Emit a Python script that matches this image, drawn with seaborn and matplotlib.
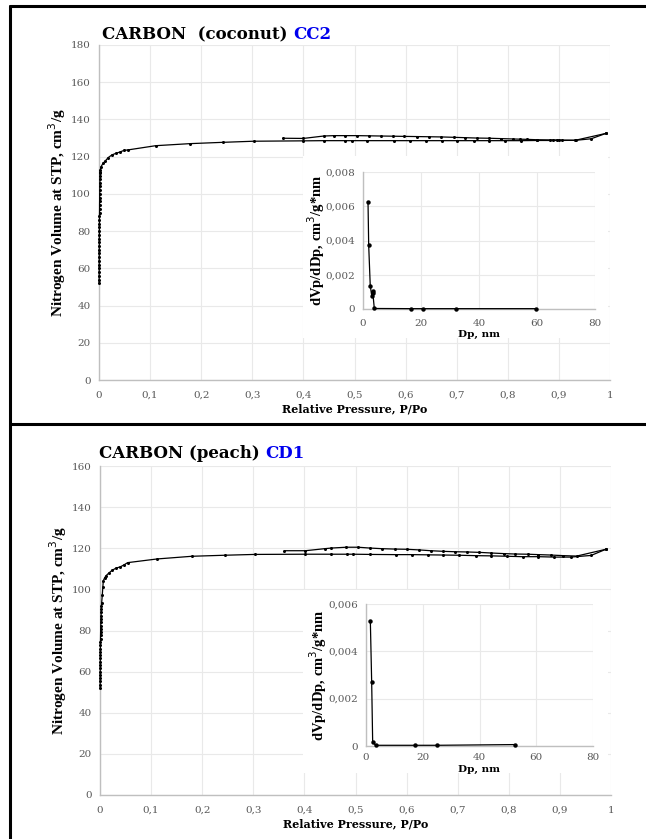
import matplotlib
matplotlib.use("Agg")
import matplotlib.pyplot as plt
import matplotlib.ticker as mticker
from matplotlib.lines import Line2D
import pandas as pd
import seaborn as sns

sns.set_style("whitegrid")
plt.rcParams['font.family'] = ['DejaVu Serif', 'DejaVu Sans']
plt.rcParams['text.color'] = 'black'
plt.rcParams['axes.labelcolor'] = 'black'

# -----------------------------
# DATA : CARBON (coconut) CC2
# -----------------------------
cc2_ads_p = [0.0003, 0.0003, 0.0003, 0.0004, 0.0004, 0.0004, 0.0004, 0.0005, 0.0005, 0.0005,
             0.0006, 0.0006, 0.0006, 0.0007, 0.0007, 0.0008, 0.0008, 0.0009, 0.0009, 0.001,
             0.0011, 0.0011, 0.0012, 0.0013, 0.0014, 0.0015, 0.0016, 0.0017, 0.0018, 0.0019,
             0.002, 0.0022, 0.0025, 0.004, 0.008, 0.012, 0.018, 0.025, 0.033, 0.041,
             0.049, 0.056, 0.111, 0.178, 0.242, 0.303, 0.40, 0.44, 0.482, 0.495,
             0.525, 0.577, 0.608, 0.639, 0.672, 0.701, 0.733, 0.763, 0.794, 0.825,
             0.858, 0.888, 0.901, 0.933, 0.963, 0.992]
cc2_ads_v = [52, 54, 56, 58, 60, 62, 64, 66, 68, 70,
             72, 74, 76, 78, 80, 82, 84, 86, 88, 90,
             92, 94, 96, 98, 100, 102, 104, 106, 108, 109.5,
             111, 112, 112.8, 114.6, 116.5, 117.6, 119.5, 120.9, 121.8, 122.5,
             123.4, 123.6, 125.9, 127.0, 127.7, 128.3, 128.5, 128.6, 128.6, 128.6,
             128.6, 128.6, 128.6, 128.6, 128.6, 128.6, 128.6, 128.6, 128.6, 128.6,
             128.7, 128.7, 128.7, 128.8, 129.6, 132.5]

cc2_des_p = [0.992, 0.932, 0.906, 0.896, 0.883, 0.857, 0.837, 0.824, 0.811, 0.787,
             0.764, 0.740, 0.717, 0.694, 0.670, 0.646, 0.622, 0.597, 0.575, 0.551,
             0.528, 0.505, 0.482, 0.46, 0.44, 0.40, 0.36]
cc2_des_v = [132.5, 128.8, 128.9, 129.0, 129.0, 129.1, 129.3, 129.4, 129.5, 129.7,
             129.9, 130.0, 130.2, 130.4, 130.6, 130.7, 130.8, 130.9, 131.0, 131.1,
             131.2, 131.3, 131.3, 131.3, 131.1, 129.8, 129.9]

cc2_dp = [1.73, 1.96, 2.5, 3.0, 3.3, 3.4, 3.9, 16.7, 20.7, 32.2, 59.6]
cc2_dv = [0.00625, 0.00373, 0.00136, 0.00078, 0.00107, 0.00092, 0.00003,
          0.00002, 0.00002, 0.00002, 0.00002]

# -----------------------------
# DATA : CARBON (peach) CD1
# -----------------------------
cd1_ads_p = [0.0003, 0.0003, 0.0003, 0.0004, 0.0004, 0.0004, 0.0005, 0.0005, 0.0005, 0.0006,
             0.0006, 0.0007, 0.0007, 0.0008, 0.0009, 0.001, 0.0011, 0.0012, 0.0013, 0.0015,
             0.0017, 0.0019, 0.0021, 0.0023, 0.0026, 0.0029, 0.0033, 0.0045, 0.0055, 0.0065,
             0.009, 0.012, 0.018, 0.024, 0.031, 0.04, 0.047, 0.054, 0.112, 0.18,
             0.244, 0.303, 0.402, 0.453, 0.484, 0.495, 0.528, 0.579, 0.61, 0.641,
             0.672, 0.703, 0.735, 0.765, 0.797, 0.827, 0.858, 0.889, 0.921, 0.961,
             0.99]
cd1_ads_v = [52, 53.6, 55.2, 56.8, 58.4, 60, 61.6, 63.2, 64.8, 66.4,
             68, 69.6, 71.2, 72.8, 74.4, 76, 77.6, 79.2, 80.8, 82.4,
             84, 85.6, 87.2, 88.8, 90.4, 92, 93.6, 97.3, 101.0, 104.2,
             105.6, 106.7, 108.1, 109.3, 110.3, 111.0, 111.9, 113.0, 114.8, 116.1,
             116.6, 117.0, 117.1, 117.1, 117.1, 117.1, 117.0, 116.9, 116.9, 116.8,
             116.7, 116.6, 116.4, 116.3, 116.1, 115.9, 115.9, 115.7, 115.7, 116.5,
             119.5]

cd1_des_p = [0.99, 0.933, 0.907, 0.882, 0.858, 0.837, 0.812, 0.79, 0.765, 0.742,
             0.718, 0.695, 0.672, 0.647, 0.624, 0.6, 0.577, 0.551, 0.528, 0.505,
             0.482, 0.453, 0.44, 0.402, 0.361]
cd1_des_v = [119.5, 116.2, 116.4, 116.7, 116.9, 117.1, 117.2, 117.4, 117.7, 118.0,
             118.2, 118.3, 118.5, 118.8, 119.2, 119.5, 119.6, 119.8, 120.1, 120.5,
             120.5, 120.1, 119.8, 118.8, 118.8]

cd1_dp = [1.53, 2.0, 2.35, 3.4, 17.1, 25.1, 52.4]
cd1_dv = [0.00529, 0.00269, 0.00017, 0.00003, 0.00003, 0.00003, 0.00006]

W, H = 646, 839
GRID = '#e9e9e9'
SPINE = '#bfbfbf'
TICKC = '#595959'
SERIF = ['DejaVu Serif', 'DejaVu Sans']
COND = ['Liberation Serif', 'DejaVu Serif']


def comma(v, pos):
    return f"{v:g}".replace('.', ',')


def box(x0, y0, x1, y1):
    # pixel box (top-left origin) -> figure fraction rect
    return [x0 / W, 1 - y1 / H, (x1 - x0) / W, (y1 - y0) / H]


def style_axes(ax, xmax, ymax, xstep, ystep, xpad=8):
    ax.set_xlim(0, xmax)
    ax.set_ylim(0, ymax)
    ax.xaxis.set_major_locator(mticker.MultipleLocator(xstep))
    ax.yaxis.set_major_locator(mticker.MultipleLocator(ystep))
    ax.xaxis.set_major_formatter(mticker.FuncFormatter(comma))
    ax.yaxis.set_major_formatter(mticker.FuncFormatter(comma))
    ax.grid(True, color=GRID, linewidth=0.8)
    for s in ['top', 'right']:
        ax.spines[s].set_visible(False)
    for s in ['left', 'bottom']:
        ax.spines[s].set_color(SPINE)
        ax.spines[s].set_linewidth(1.0)
    ax.tick_params(length=0, labelsize=7.5, labelcolor=TICKC, pad=6)
    ax.tick_params(axis='x', pad=xpad)
    for lab in ax.get_xticklabels() + ax.get_yticklabels():
        lab.set_family(SERIF)
    ax.set_facecolor('white')


def curve(ax, x, y, ms=2.2):
    df = pd.DataFrame({'x': x, 'y': y})
    sns.lineplot(data=df, x='x', y='y', ax=ax, sort=False, color='black',
                 linewidth=0.9, marker='o', markersize=ms, markeredgewidth=0,
                 estimator=None, zorder=4, clip_on=False)


def panel(main_rect, bg_rect, in_rect, ymax, ads, des, psd, psd_ymax, title, code,
          title_xy, xlab_off, in_xlab_off, in_ylab_off, in_xpad):
    ax = fig.add_axes(main_rect)
    curve(ax, *ads)
    curve(ax, *des)
    style_axes(ax, 1, ymax, 0.1, 20)
    ax.set_xlabel('Relative Pressure, P/Po', fontsize=8, fontweight='bold',
                  family=SERIF, color='black')
    ax.xaxis.set_label_coords(0.5, xlab_off)
    ax.set_ylabel('Nitrogen Volume at STP, cm$^3$/g', fontsize=11,
                  fontweight='bold', family=COND, color='black')
    ax.yaxis.set_label_coords(-0.061, 0.5)

    bg = fig.add_axes(bg_rect)
    bg.set_facecolor('white')
    bg.set_xticks([])
    bg.set_yticks([])
    bg.grid(False)
    for s in bg.spines.values():
        s.set_visible(False)

    ins = fig.add_axes(in_rect)
    curve(ins, *psd, ms=3.2)
    style_axes(ins, 80, psd_ymax, 20, 0.002, xpad=in_xpad)
    ins.set_xlabel('Dp, nm', fontsize=7.5, fontweight='bold', family=SERIF,
                   color='black')
    ins.xaxis.set_label_coords(0.5, in_xlab_off)
    ins.set_ylabel('dVp/dDp, cm$^3$/g*nm', fontsize=10.5, fontweight='bold',
                   family=COND, color='black')
    ins.yaxis.set_label_coords(in_ylab_off, 0.5)

    t = fig.text(title_xy[0] / W, 1 - title_xy[1] / H, title, fontsize=12,
                 fontweight='bold', family=SERIF, va='baseline', ha='left',
                 color='black')
    fig.text(0, 0, code, fontsize=12, fontweight='bold', family=SERIF,
             color='#0000ee', va='baseline', ha='left')
    return t


fig = plt.figure(figsize=(W / 100, H / 100), dpi=100)

t1 = panel(box(99, 45, 610, 380), box(303, 156, 608, 338), box(363, 172, 595, 309),
           180, (cc2_ads_p, cc2_ads_v), (cc2_des_p, cc2_des_v), (cc2_dp, cc2_dv),
           0.008, 'CARBON  (coconut) ', 'CC2', (102, 39), -0.069, -0.153, -0.155, 7)
t2 = panel(box(100, 466, 611, 795), box(303, 590, 608, 773), box(366, 604, 593, 746),
           160, (cd1_ads_p, cd1_ads_v), (cd1_des_p, cd1_des_v), (cd1_dp, cd1_dv),
           0.006, 'CARBON (peach) ', 'CD1', (99, 458), -0.07, -0.135, -0.163, 5)

# place the blue sample codes right after the black titles
fig.canvas.draw()
codes = [txt for txt in fig.texts if txt.get_text() in ('CC2', 'CD1')]
for tt, cc in zip([t1, t2], codes):
    bb = tt.get_window_extent()
    cc.set_position((bb.x1 / W, tt.get_position()[1]))

# panel frame lines
for (x0, y0, x1, y1) in [(10, 6, 646, 6), (10, 424, 646, 424), (10, 6, 10, 839)]:
    fig.add_artist(Line2D([x0 / W, x1 / W], [1 - y0 / H, 1 - y1 / H],
                          color='black', linewidth=2.2, transform=fig.transFigure))

fig.savefig('out.png', dpi=100)
